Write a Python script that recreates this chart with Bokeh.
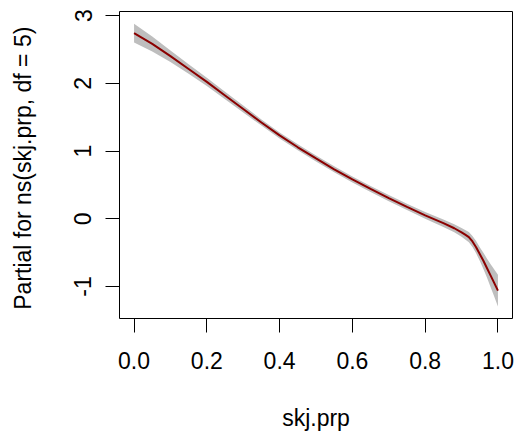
from bokeh.plotting import figure
from bokeh.models import Range1d, FixedTicker
from bokeh.embed import file_html
from bokeh.resources import INLINE

# Partial effect of the natural spline term on skj.prp, with its standard-error band
skj_prp = [0.0, 0.05, 0.1, 0.15, 0.2, 0.25, 0.3, 0.35, 0.4, 0.45, 0.5, 0.55, 0.6,
           0.65, 0.7, 0.75, 0.8, 0.85, 0.88, 0.9, 0.91, 0.92, 0.93, 0.94, 0.95,
           0.96, 0.97, 0.98, 0.99, 1.0]
partial = [2.74, 2.58, 2.40, 2.21, 2.02, 1.82, 1.62, 1.42, 1.23, 1.055, 0.89, 0.73, 0.58,
           0.44, 0.305, 0.175, 0.05, -0.065, -0.14, -0.20, -0.235, -0.27, -0.335, -0.42, -0.52,
           -0.62, -0.73, -0.84, -0.95, -1.06]
upper = [2.88, 2.69, 2.485, 2.28, 2.08, 1.875, 1.67, 1.465, 1.275, 1.10, 0.935, 0.775, 0.625,
         0.485, 0.35, 0.22, 0.10, -0.01, -0.08, -0.135, -0.165, -0.195, -0.255, -0.33, -0.42,
         -0.50, -0.59, -0.67, -0.75, -0.825]
lower = [2.60, 2.47, 2.315, 2.14, 1.96, 1.765, 1.57, 1.375, 1.185, 1.01, 0.845, 0.685, 0.535,
         0.395, 0.26, 0.13, 0.0, -0.12, -0.20, -0.265, -0.305, -0.345, -0.415, -0.51, -0.62,
         -0.74, -0.87, -1.01, -1.15, -1.295]

x_ticks = [0.0, 0.2, 0.4, 0.6, 0.8, 1.0]
x_tick_labels = ["0.0", "0.2", "0.4", "0.6", "0.8", "1.0"]
y_ticks = [-1, 0, 1, 2, 3]
y_tick_labels = ["-1", "0", "1", "2", "3"]

FONT = "Liberation Sans"
FS = "23px"

p = figure(width=517, height=435, output_backend="svg", toolbar_location=None,
           x_range=Range1d(-0.04, 1.04), y_range=Range1d(-1.472, 3.059),
           min_border_left=119, min_border_right=5, min_border_top=11, min_border_bottom=117)

p.background_fill_color = "white"
p.border_fill_color = "white"
p.outline_line_color = "black"
p.outline_line_width = 1
p.xgrid.visible = False
p.ygrid.visible = False

p.varea(x=skj_prp, y1=lower, y2=upper, fill_color="#bebebe", fill_alpha=1.0)
p.line(x=skj_prp, y=partial, line_color="#8b0000", line_width=2)

for ax, ticks, labels in ((p.xaxis[0], x_ticks, x_tick_labels), (p.yaxis[0], y_ticks, y_tick_labels)):
    ax.ticker = FixedTicker(ticks=ticks)
    ax.major_label_overrides = {t: l for t, l in zip(ticks, labels)}
    ax.minor_tick_line_color = None
    ax.axis_line_color = None
    ax.major_tick_line_color = "black"
    ax.major_tick_out = 14
    ax.major_tick_in = 0
    ax.major_label_text_font = FONT
    ax.major_label_text_font_size = FS
    ax.major_label_text_color = "black"
    ax.axis_label_text_font = FONT
    ax.axis_label_text_font_size = FS
    ax.axis_label_text_font_style = "normal"
    ax.axis_label_text_color = "black"

p.xaxis.axis_label = "skj.prp"
p.xaxis.major_label_standoff = 19
p.xaxis.axis_label_standoff = 33

p.yaxis.axis_label = "Partial for ns(skj.prp,  df = 5)"
p.yaxis.major_label_orientation = "vertical"
p.yaxis.major_label_standoff = 14
p.yaxis.axis_label_standoff = 36

open("out.html", "w").write(file_html(p, INLINE))
